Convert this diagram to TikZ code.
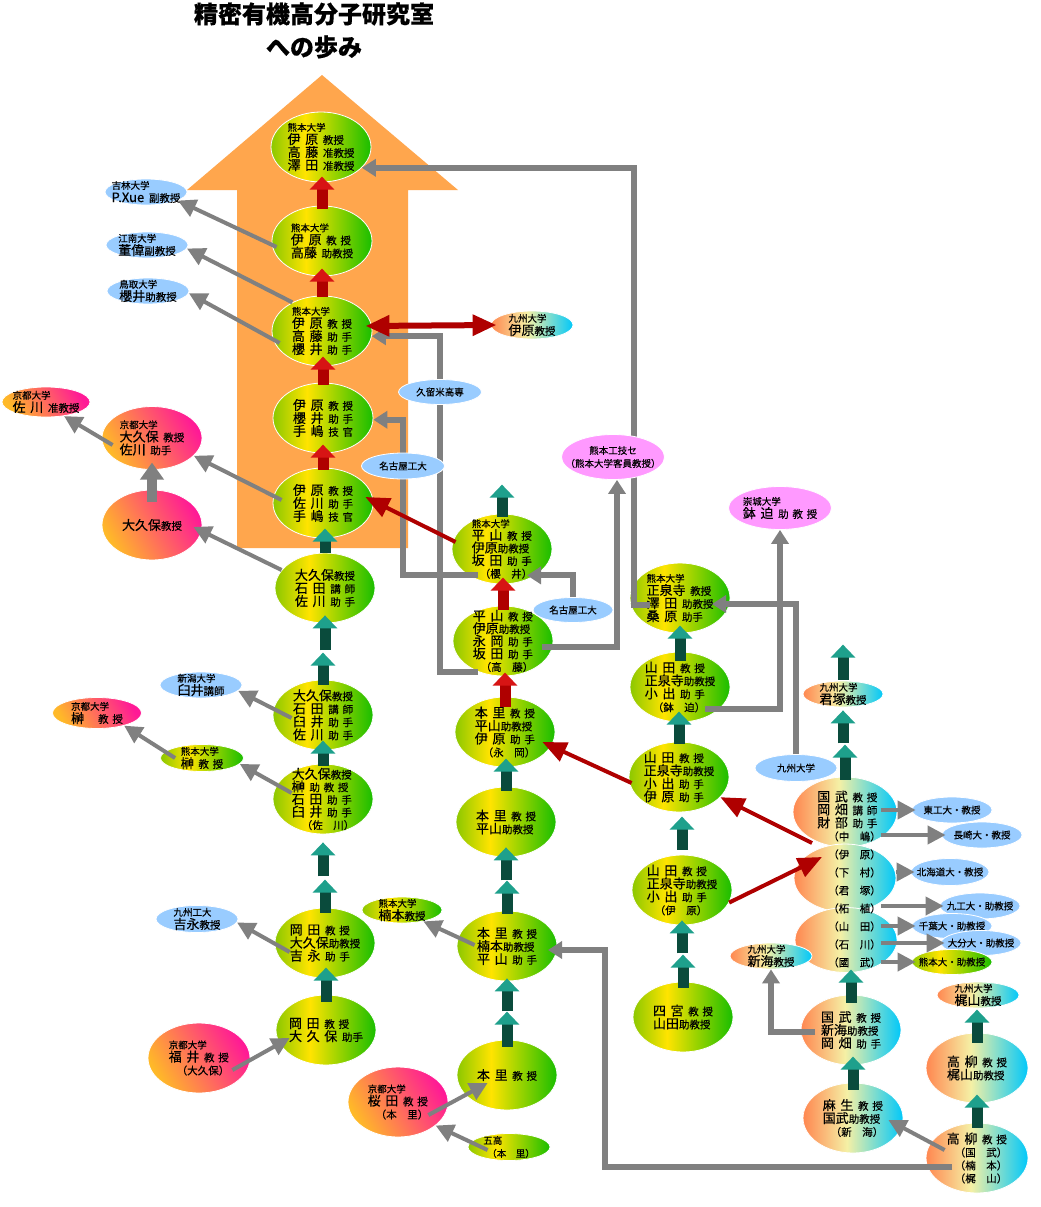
\documentclass[tikz,border=0pt]{standalone}
\usepackage{fontspec}
\setmainfont{Noto Sans CJK JP}[WordSpace=1.6,FakeBold=0.4]
\usetikzlibrary{shapes.geometric,arrows.meta}
\definecolor{orng}{RGB}{255,166,77}\definecolor{ltblue}{RGB}{153,204,255}\definecolor{vioc}{RGB}{255,153,255}
\definecolor{gyL}{RGB}{140,200,0}\definecolor{gyY}{RGB}{255,228,0}\definecolor{gyR}{RGB}{25,190,0}
\definecolor{cyL}{RGB}{255,135,80}\definecolor{cyM}{RGB}{245,240,165}\definecolor{cyR}{RGB}{0,200,250}
\definecolor{pkL}{RGB}{255,185,40}\definecolor{pkR}{RGB}{255,25,150}
\definecolor{redsh}{RGB}{175,0,0}\definecolor{redhd}{RGB}{215,20,20}\definecolor{tlsh}{RGB}{10,75,60}\definecolor{tlhd}{RGB}{30,160,140}
\pgfdeclarehorizontalshading{gy}{100bp}{color(0bp)=(gyL); color(25bp)=(gyL); color(42bp)=(gyY); color(75bp)=(gyR); color(100bp)=(gyR)}
\pgfdeclarehorizontalshading{cy}{100bp}{color(0bp)=(cyL); color(25bp)=(cyL); color(47bp)=(cyM); color(75bp)=(cyR); color(100bp)=(cyR)}
\pgfdeclarehorizontalshading{pk}{100bp}{color(0bp)=(pkL); color(25bp)=(pkL); color(75bp)=(pkR); color(100bp)=(pkR)}
\pgfdeclarelayer{back}\pgfdeclarelayer{front}\pgfsetlayers{back,main,front}
\newcommand\daigaku[1]{{\fontsize{9.5}{12}\selectfont #1}}
\newcommand\yaku[1]{{\fontsize{10.5}{12}\selectfont #1}}
\begin{document}
\begin{tikzpicture}
[x=1pt,y=-1pt, ell/.style={ellipse,inner sep=-12pt,draw=white,line width=.8pt,align=left,font=\fontsize{13}{13}\selectfont},
bigell/.style={ell,minimum width=100pt,minimum height=70pt}, smlell/.style={ell,minimum width=82pt,minimum height=26pt},
grn/.style={shade,shading=gy}, kyu/.style={shade,shading=cy}, kyo/.style={shade,shading=pk,shading angle=30},
ltb/.style={fill=ltblue}, vio/.style={fill=vioc}, tight/.style={font=\fontsize{13}{12.6}\selectfont},
rblk/.style={draw=redsh,line width=11pt,-{Triangle[width=24pt,length=13pt,color=redhd,fill=redhd]}},
tblk/.style={draw=tlsh,line width=11pt,-{Triangle[width=24pt,length=13pt,color=tlhd,fill=tlhd]}},
gblk/.style={draw=gray,line width=10pt,-{Triangle[width=23pt,length=17pt]}},
garr/.style={draw=gray,line width=4pt,-{Triangle[width=18pt,length=18pt]}},
gline/.style={draw=gray,line width=6pt,-{Triangle[width=17pt,length=14pt]}},
rarr/.style={draw=redsh,line width=4pt,-{Triangle[width=20pt,length=24pt]}},
rdbl/.style={draw=redsh,line width=6pt,{Triangle[width=20pt,length=24pt]}-{Triangle[width=20pt,length=24pt]}}]
\useasboundingbox (0,0) rectangle (1041,1207);
\begin{pgfonlayer}{back}
\fill[white] (0,0) rectangle (1041,1207);
\fill[orng] (237,548) -- (237,190) -- (187,190) -- (322,75) -- (458,190) -- (408,190) -- (408,548) -- cycle;
\end{pgfonlayer}
\node(title1) at (314,14) {\fontsize{24}{26}\selectfont\bfseries 精密有機高分子研究室};
\node(title2) at (314,47) {\fontsize{24}{26}\selectfont\bfseries への歩み};
\node(n1) at (321,147)[bigell,grn]{\daigaku{熊本大学}\\伊 原 \yaku{教授}\\高 藤 \yaku{准教授}\\澤 田 \yaku{准教授}};
\node(n2) at (322,241)[bigell,grn]{\daigaku{熊本大学}\\伊 原 \yaku{教 授}\\高藤 \yaku{助教授}};
\node(n3) at (322,331)[bigell,grn]{\daigaku{熊本大学}\\伊 原 \yaku{教 授}\\高 藤 \yaku{助 手}\\櫻 井 \yaku{助 手}};
\node(n4) at (323,418)[bigell,grn]{伊 原 \yaku{教 授}\\櫻 井 \yaku{助 手}\\手 嶋 \yaku{技 官}};
\node(n5) at (323,503)[bigell,grn]{伊 原 \yaku{教 授}\\佐 川 \yaku{助 手}\\手 嶋 \yaku{技 官}};
\node(n6) at (325,588)[bigell,grn]{大久保\yaku{教授}\\石 田 \yaku{講 師}\\佐 川 \yaku{助 手}};
\node(n7) at (323,715)[bigell,grn]{大久保\yaku{教授}\\石 田 \yaku{講 師}\\臼 井 \yaku{助 手}\\佐 川 \yaku{助 手}};
\node(n8) at (323,799)[bigell,grn,tight]{大久保\yaku{教授}\\榊 \yaku{助 教 授}\\石 田 \yaku{助 手}\\臼 井 \yaku{助 手}\\\hspace*{10pt}\yaku{（佐　川）}};
\node(n9) at (325,943)[bigell,grn]{岡 田 \yaku{教 授}\\大久保\yaku{助教授}\\吉 永 \yaku{助 手}};
\node(n10) at (326,1030)[bigell,grn]{岡 田 \yaku{教 授}\\大 久 保 \yaku{助手}};
\node(b1) at (502,549)[bigell,grn,tight]{\daigaku{熊本大学}\\平 山 \yaku{教 授}\\伊原\yaku{助教授}\\坂 田 \yaku{助 手}\\\hspace*{8pt}\yaku{（櫻　井）}};
\node(b2) at (503,641)[bigell,grn,tight]{平 山 \yaku{教 授}\\伊原\yaku{助教授}\\永 岡 \yaku{助 手}\\坂 田 \yaku{助 手}\\\hspace*{8pt}\yaku{（高　藤）}};
\node(b3) at (505,732)[bigell,grn]{本 里 \yaku{教 授}\\平山\yaku{助教授}\\伊 原 \yaku{助 手}\\\hspace*{8pt}\yaku{（永　岡）}};
\node(b4) at (506,822)[bigell,grn]{本 里 \yaku{教 授}\\平山\yaku{助教授}};
\node(b5) at (507,946)[bigell,grn]{本 里 \yaku{教 授}\\楠本\yaku{助教授}\\平 山 \yaku{助 手}};
\node(b6) at (507,1075)[bigell,grn]{本 里 \yaku{教 授}};
\node(c1) at (680,598)[bigell,grn]{\daigaku{熊本大学}\\正泉寺 \yaku{教授}\\澤 田 \yaku{助教授}\\桑 原 \yaku{助手}};
\node(c2) at (680,687)[bigell,grn]{山 田 \yaku{教 授}\\正泉寺\yaku{助教授}\\小 出 \yaku{助 手}\\\hspace*{8pt}\yaku{（鉢　迫）}};
\node(c3) at (679,777)[bigell,grn]{山 田 \yaku{教 授}\\正泉寺\yaku{助教授}\\小 出 \yaku{助 手}\\伊 原 \yaku{助 手}};
\node(c4) at (682,890)[bigell,grn]{山 田 \yaku{教 授}\\正泉寺\yaku{助教授}\\小 出 \yaku{助 手}\\\hspace*{8pt}\yaku{（伊　原）}};
\node(c5) at (683,1017)[bigell,grn]{四 宮 \yaku{教 授}\\山田\yaku{助教授}};
\node(kk1) at (845,812)[bigell,kyu,minimum width=104pt]{};
\node(kk2) at (845,878)[bigell,kyu,minimum width=102pt,minimum height=68pt]{};
\node(kk3) at (846,940)[bigell,kyu,minimum width=102pt,minimum height=65pt]{};
\node(kt) at (849,879)[align=left,inner sep=0pt,font=\fontsize{13}{13}\selectfont]{国 武 \yaku{教 授}\\岡 畑 \yaku{講 師}\\財 部 \yaku{助 手}\\\hspace*{11pt}\yaku{（中　嶋）}\\[5pt]
\hspace*{11pt}\yaku{（伊　原）}\\[5pt]\hspace*{11pt}\yaku{（下　村）}\\[5pt]\hspace*{11pt}\yaku{（君　塚）}\\[5pt]\hspace*{11pt}\yaku{（柘　植）}\\[5pt]
\hspace*{11pt}\yaku{（山　田）}\\[5pt]\hspace*{11pt}\yaku{（石　川）}\\[5pt]\hspace*{11pt}\yaku{（國　武）}};
\node(r1) at (851,1030)[bigell,kyu]{国 武 \yaku{教 授}\\新海\yaku{助教授}\\岡 畑 \yaku{助 手}};
\node(r2) at (853,1118)[bigell,kyu]{麻 生 \yaku{教 授}\\国武\yaku{助教授}\\\hspace*{8pt}\yaku{（新　海）}};
\node(r3) at (977,1068)[bigell,kyu,minimum width=102pt]{高 柳 \yaku{教 授}\\梶山\yaku{助教授}};
\node(r4) at (977,1158)[bigell,kyu,minimum width=102pt]{高 柳 \yaku{教 授}\\\hspace*{8pt}\yaku{（国　武）}\\\hspace*{8pt}\yaku{（楠　本）}\\\hspace*{8pt}\yaku{（梶　山）}};
\node(jilin) at (146,192)[smlell,ltb]{\daigaku{吉林大学}\\P.Xue \yaku{副教授}};
\node(jiangnan) at (147,245)[smlell,ltb]{\daigaku{江南大学}\\董偉\yaku{副教授}};
\node(tottori) at (148,291)[smlell,ltb]{\daigaku{鳥取大学}\\櫻井\yaku{助教授}};
\node(kyushu1) at (532,325)[smlell,kyu,minimum height=28pt]{\daigaku{九州大学}\\伊原\yaku{教授}};
\node(ksagawa) at (46,402)[smlell,kyo,minimum width=88pt,minimum height=30pt]{\daigaku{京都大学}\\佐 川 \yaku{准教授}};
\node(kyookubo) at (152,438)[bigell,kyo,minimum height=63pt]{\daigaku{京都大学}\\大久保 \yaku{教授}\\佐川 \yaku{助手}};
\node(okubo) at (152,525)[bigell,kyo]{大久保\yaku{教授}};
\node(nagoya2) at (573,610)[smlell,ltb,minimum width=80pt,minimum height=25pt]{\daigaku{名古屋工大}};
\node(sojo) at (780,508)[smlell,vio,minimum width=103pt,minimum height=43pt]{\daigaku{崇城大学}\\鉢 迫 \yaku{助 教 授}};
\node(kyushu2) at (796,768)[smlell,ltb,minimum height=27pt]{\daigaku{九州大学}};
\node(kimizuka) at (843,694)[smlell,kyu,minimum width=80pt]{\daigaku{九州大学}\\君塚\yaku{教授}};
\node(niigata) at (201,685)[smlell,ltb]{\daigaku{新潟大学}\\臼井\yaku{講師}};
\node(ksakaki) at (97,713)[smlell,kyo,minimum width=89pt,minimum height=31pt]{\daigaku{京都大学}\\榊\hspace{14pt}\yaku{教 授}};
\node(kusakaki) at (202,758)[smlell,grn,minimum width=83pt,minimum height=27pt]{\daigaku{熊本大学}\\榊 \yaku{教 授}};
\node(kyutech) at (197,919)[smlell,ltb,minimum height=27pt]{\daigaku{九州工大}\\吉永\yaku{教授}};
\node(fukui) at (199,1058)[bigell,kyo,minimum width=102pt]{\daigaku{京都大学}\\福 井 \yaku{教 授}\\\hspace*{8pt}\yaku{（大久保）}};
\node(kusumoto) at (402,910)[smlell,grn,minimum width=80pt]{\daigaku{熊本大学}\\楠本\yaku{教授}};
\node(sakurada) at (398,1102)[bigell,kyo]{\daigaku{京都大学}\\桜 田 \yaku{教 授}\\\hspace*{8pt}\yaku{（本　里）}};
\node(goko) at (509,1147)[smlell,grn,minimum height=27pt]{\daigaku{五高}\\\hspace*{4pt}\daigaku{（本　里）}};
\node(shinkai) at (771,956)[smlell,kyu]{\daigaku{九州大学}\\新海\yaku{教授}};
\node(kajiyama) at (978,995)[smlell,kyu]{\daigaku{九州大学}\\梶山\yaku{教授}};
\node(toko) at (952,810)[smlell,ltb,minimum width=80pt]{\daigaku{東工大・教授}};
\node(nagasaki) at (982,835)[smlell,ltb,minimum width=80pt]{\daigaku{長崎大・教授}};
\node(hokkaido) at (950,872)[smlell,ltb,minimum width=78pt,minimum height=27pt]{\daigaku{北海道大・教授}};
\node(kyukodai) at (980,906)[smlell,ltb,minimum width=80pt]{\daigaku{九工大・助教授}};
\node(chiba) at (952,926)[smlell,ltb,minimum width=80pt,minimum height=25pt]{\daigaku{千葉大・助教授}};
\node(oita) at (981,943)[smlell,ltb,minimum width=80pt,minimum height=25pt]{\daigaku{大分大・助教授}};
\node(kumadai) at (952,962)[smlell,grn,minimum width=80pt,minimum height=25pt]{\daigaku{熊本大・助教授}};
\begin{pgfonlayer}{front}
\node(kurume) at (440,392)[smlell,ltb,minimum width=83pt,minimum height=25pt]{\daigaku{久留米高専}};
\node(nagoya1) at (403,466)[smlell,ltb,minimum width=83pt]{\daigaku{名古屋工大}};
\node(kosen) at (613,457)[smlell,vio,minimum width=103pt,minimum height=45pt,align=center]{\daigaku{熊本工技セ}\\\daigaku{（熊本大学客員教授）}};
\end{pgfonlayer}
\draw[gline] ([xshift=-25pt,yshift=4pt]b2.south) -- ++(-38,0) |- (n3.-6);
\draw[gline] ([xshift=-24pt,yshift=9pt]b1.south) -- ++(-75,0) |- (n4.-2);
\draw[gline] (nagoya2.north) |- ([xshift=25pt,yshift=9pt]b1.south);
\draw[gline] ([xshift=39pt,yshift=-6pt]b2.center) -| ([xshift=4pt]kosen.south);
\draw[gline] ([xshift=-30pt,yshift=-7pt]c1.center) -- ++(-16,0) |- (n1.-27);
\draw[gline] (kyushu2.north) |- ([xshift=32pt,yshift=-6pt]c1.center);
\draw[gline] ([xshift=25pt,yshift=-22pt]c2.center) -| (sojo.south);
\draw[gline] ([xshift=-36pt,yshift=-2pt]r1.center) -| (shinkai.south);
\draw[gline] ([xshift=-25pt,yshift=-9pt]r4.center) -- ++(-347,0) |- ([xshift=41pt,yshift=-4pt]b5.center);
\draw[garr] ([xshift=5pt,yshift=-6pt]n2.west) -- (jilin.-15);\draw[garr] (n3.136) -- (jiangnan.-5);
\draw[garr] ([xshift=8pt,yshift=-12pt]n3.west) -- (tottori.-3);
\draw[garr] ([xshift=11pt,yshift=-7pt]kyookubo.west) -- (ksagawa.-38);
\draw[garr] ([xshift=9pt,yshift=3pt]n5.west) -- (kyookubo.-23);
\draw[garr] ([xshift=7pt,yshift=18pt]n6.west) -- ([xshift=-9pt,yshift=-2pt]okubo.east);
\draw[gblk] (okubo.north) ++(0,12) -- ++(0,-39);
\draw[garr] ([xshift=19pt,yshift=-3pt]n7.west) -- (niigata.-9);
\draw[garr] ([xshift=15pt]kusakaki.west) -- (ksakaki.-25);
\draw[garr] ([xshift=19pt,yshift=6pt]n8.west) -- (kusakaki.-9);
\draw[garr] ([xshift=15pt,yshift=-9pt]n9.west) -- (kyutech.-5);
\draw[garr] ([xshift=-18pt,yshift=-12pt]fukui.east) -- ([xshift=14pt,yshift=-8pt]n10.west);
\draw[garr] ([xshift=18pt,yshift=1pt]b5.west) -- (kusumoto.-28);
\draw[garr] ([xshift=-20pt,yshift=-13pt]sakurada.east) -- ([xshift=31pt,yshift=-8pt]b6.west);
\draw[garr] ([xshift=20pt,yshift=-3pt]goko.west) -- (sakurada.-32);
\draw[garr] ([xshift=19pt,yshift=8pt]r4.west) -- ([xshift=-15pt,yshift=-2pt]r2.east);
\draw[garr] (kt.east |- toko.west) -- ([xshift=4pt]toko.west);\draw[garr] (kt.east |- nagasaki.west) -- ([xshift=4pt]nagasaki.west);
\draw[garr] (kk2.east |- hokkaido.west) -- ([xshift=4pt]hokkaido.west);\draw[garr] (kt.east |- kyukodai.west) -- ([xshift=4pt]kyukodai.west);
\draw[garr] (kt.east |- chiba.west) -- ([xshift=4pt]chiba.west);\draw[garr] (kt.east |- oita.west) -- ([xshift=4pt]oita.west);
\draw[garr] (kt.east |- kumadai.west) -- ([xshift=4pt]kumadai.west);
\draw[rarr] ([xshift=4pt,yshift=7pt]b1.west) -- ([xshift=-8pt,yshift=6pt]n5.east);
\draw[rarr] ([xshift=3pt,yshift=-6pt]c3.west) -- ([xshift=-13pt,yshift=-10pt]b3.east);
\draw[rarr] ([xshift=-33pt,yshift=-31pt]kk1.center) -- (c3.-26);
\draw[rarr] (c4.-15) -- ([xshift=-23pt,yshift=21pt]kk2.center);
\draw[rdbl] ([xshift=-7pt,yshift=5pt]n3.east) -- ([xshift=6pt]kyushu1.west);
\draw[rblk] (n2.north) ++(0,3) -- ++(0,-32);\draw[rblk] (n3.north) ++(0,1) -- ++(0,-28);
\draw[rblk] (n4.north) ++(0,2) -- ++(0,-28);\draw[rblk] (n5.north) ++(0,2) -- ++(0,-25);
\draw[rblk] (b2.north) ++(0,4) -- ++(0,-32);\draw[rblk] (b3.north) ++(0,10) -- ++(0,-34);
\draw[tblk] (n6.north) ++(0,0) -- ++(0,-24);\draw[tblk] (n6.south) ++(0,27) -- ++(0,-35);
\draw[tblk] (n7.north) ++(0,5) -- ++(0,-32);\draw[tblk] (n8.north) ++(0,2) -- ++(0,-25);
\draw[tblk] (n8.south) ++(0,42) -- ++(0,-34);\draw[tblk] (n9.north) ++(0,5) -- ++(0,-33);
\draw[tblk] (n10.north) ++(0,7) -- ++(0,-34);\draw[tblk] (b1.north) ++(0,3) -- ++(0,-32);
\draw[tblk] (b4.north) ++(0,4) -- ++(0,-32);\draw[tblk] (b4.south) ++(0,23) -- ++(0,-33);
\draw[tblk] (b5.north) ++(0,3) -- ++(0,-33);\draw[tblk] (b5.south) ++(0,30) -- ++(0,-33);
\draw[tblk] (b6.north) ++(0,7) -- ++(0,-35);\draw[tblk] (c2.north) ++(0,9) -- ++(0,-35);
\draw[tblk] (c3.north) ++(0,2) -- ++(0,-32);\draw[tblk] (c4.north) ++(0,-5) -- ++(0,-33);
\draw[tblk] (c4.south) ++(0,28) -- ++(0,-33);\draw[tblk] (c5.north) ++(0,6) -- ++(0,-33);
\draw[tblk] (kimizuka.north) ++(0,-1) -- ++(0,-35);\draw[tblk] (kimizuka.south) ++(0,36) -- ++(0,-33);
\draw[tblk] (kk1.north) ++(0,3) -- ++(0,-35);\draw[tblk] (r1.north) ++(0,8) -- ++(0,-33);
\draw[tblk] (r2.north) ++(0,7) -- ++(0,-33);\draw[tblk] (r3.north) ++(0,10) -- ++(0,-33);
\draw[tblk] (r4.north) ++(0,5) -- ++(0,-33);
\end{tikzpicture}
\end{document}
